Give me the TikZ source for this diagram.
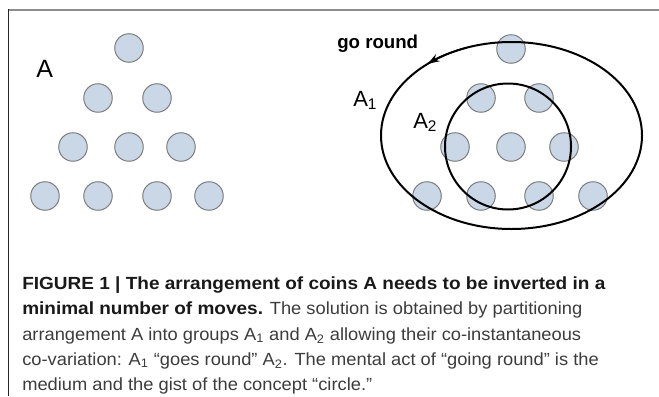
\documentclass[tikz,border=0pt]{standalone}
\usepackage{fontspec}
\setmainfont{Liberation Sans}
\usetikzlibrary{arrows.meta}
\definecolor{coinfill}{RGB}{202,215,230}
\definecolor{coinedge}{RGB}{125,125,125}
\definecolor{framegray}{RGB}{140,140,140}
\definecolor{captxt}{RGB}{60,60,60}
\definecolor{capbold}{RGB}{25,25,25}
\newfontfamily\capfont[FakeStretch=1.04]{Liberation Sans}
\newfontfamily\capbf[FakeStretch=1.08]{Liberation Sans}
\begin{document}
\begin{tikzpicture}[x=0.75pt,y=-0.75pt,
  coin/.style={circle, draw=coinedge, fill=coinfill, line width=0.75pt, minimum size=21.4pt, inner sep=0pt},
  ring/.style={draw=black, line width=1.5pt},
  capline/.style={anchor=base west, inner sep=0pt, text=captxt, font=\capfont\fontsize{13.2pt}{15pt}\selectfont},
  biglabel/.style={anchor=base west, inner sep=0pt, font=\fontsize{18.75pt}{22pt}\selectfont},
  setlabel/.style={anchor=base west, inner sep=0pt, font=\fontsize{16.5pt}{20pt}\selectfont}]
\useasboundingbox (0,0) rectangle (659,396);
% frame
\draw[framegray, line width=1.5pt] (8,9.5) -- (659,9.5);
\draw[black!85, line width=1.1pt] (8.5,9) -- (8.5,396);
% left arrangement A
\node[biglabel] (labA) at (36,77) {A};
\node[coin] (l1) at (129,48) {};
\node[coin] (l2) at (98,98) {};
\node[coin] (l3) at (157,98) {};
\node[coin] (l4) at (73,147) {};
\node[coin] (l5) at (129,147) {};
\node[coin] (l6) at (181,147) {};
\node[coin] (l7) at (45,196) {};
\node[coin] (l8) at (98,196) {};
\node[coin] (l9) at (157,196) {};
\node[coin] (l10) at (209,196) {};
% right arrangement
\node[coin] (r1) at (511,49) {};
\node[coin] (r2) at (481,98) {};
\node[coin] (r3) at (539,98) {};
\node[coin] (r4) at (455,147) {};
\node[coin] (r5) at (511,147) {};
\node[coin] (r6) at (564,147) {};
\node[coin] (r7) at (427,196) {};
\node[coin] (r8) at (481,196) {};
\node[coin] (r9) at (539,196) {};
\node[coin] (r10) at (593,196) {};
\coordinate (outerc) at (511.5,135.5);
\coordinate (innerc) at (508,146.5);
\draw[ring] (outerc) ellipse [x radius=130.5, y radius=93.5];
\draw[ring] (innerc) circle [radius=63];
\draw[line width=1.2pt, -{Stealth[length=9pt,width=6pt]}] (outerc) ++(-110:130.5 and 93.5) arc [start angle=-110, end angle=-130, x radius=130.5, y radius=93.5];
\node[anchor=base west, inner sep=0pt, font=\bfseries\fontsize{14pt}{16pt}\selectfont] (go) at (337,48) {go round};
\node[setlabel] (a1) at (353,106) {A\textsubscript{1}};
\node[setlabel] (a2) at (413,128) {A\textsubscript{2}};
% caption
\node[capline] (c1) at (22,289) {\capbf\color{capbold}\bfseries FIGURE 1 | The arrangement of coins A needs to be inverted in a};
\node[capline] (c2) at (22,314.5) {{\capbf\color{capbold}\bfseries minimal number of moves.} The solution is obtained by partitioning};
\node[capline] (c3) at (22,340) {arrangement A into groups A\textsubscript{1} and A\textsubscript{2} allowing their co-instantaneous};
\node[capline] (c4) at (22,365) {co-variation: A\textsubscript{1} “goes round” A\textsubscript{2}. The mental act of “going round” is the};
\node[capline] (c5) at (22,390) {medium and the gist of the concept “circle.”};
\end{tikzpicture}
\end{document}
